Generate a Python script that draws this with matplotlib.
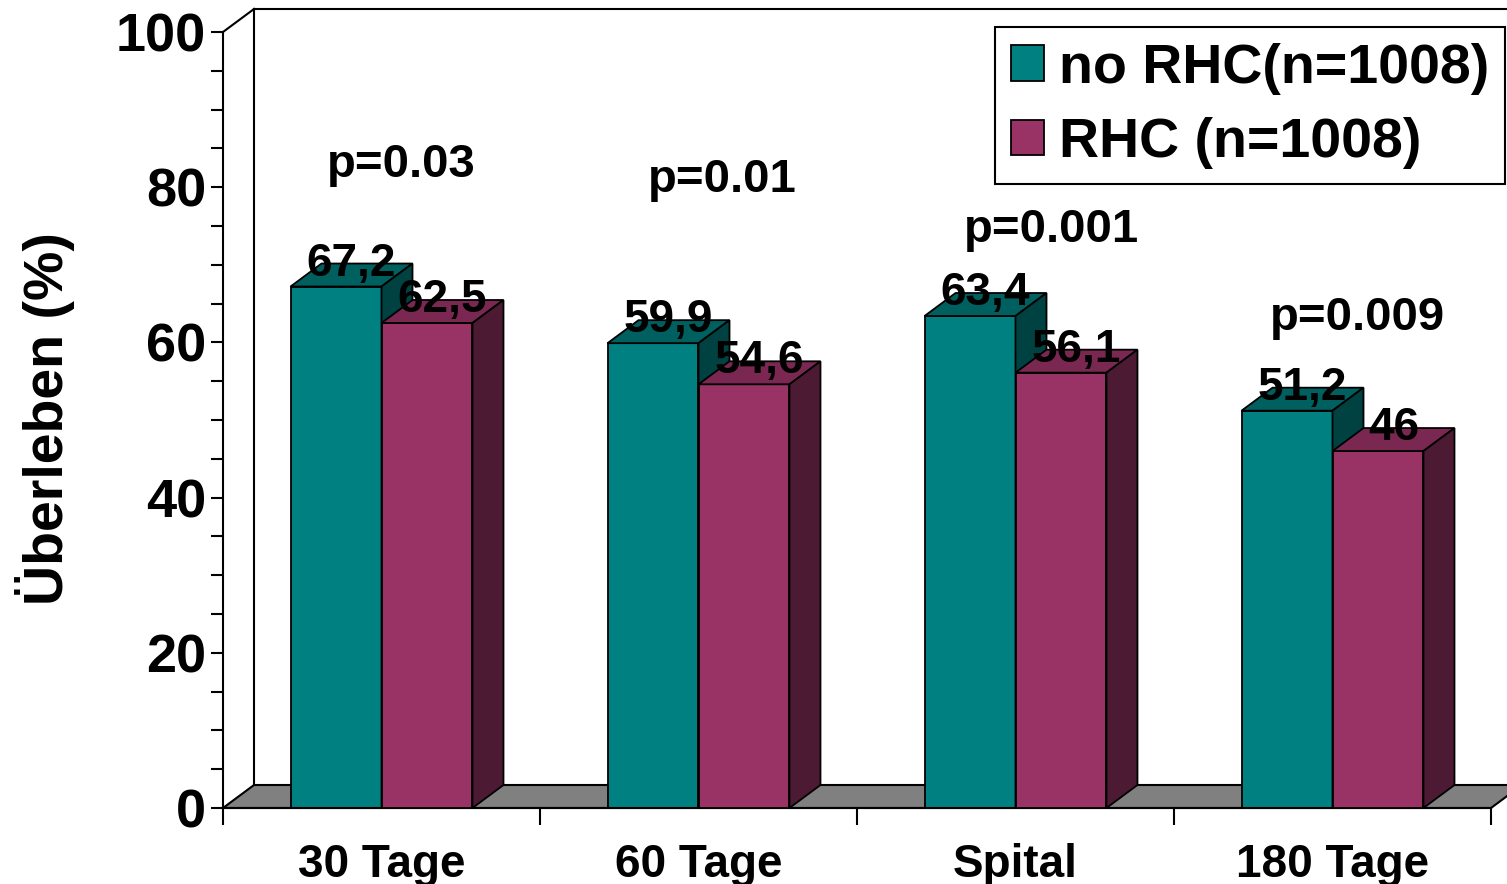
import matplotlib.pyplot as plt
from matplotlib.patches import Polygon, Patch
from matplotlib.ticker import MultipleLocator, FixedLocator

plt.rcParams['font.family'] = ['Liberation Sans', 'DejaVu Sans']
plt.rcParams['font.weight'] = 'bold'

categories = ['30 Tage', '60 Tage', 'Spital', '180 Tage']
no_rhc = [67.2, 59.9, 63.4, 51.2]
rhc = [62.5, 54.6, 56.1, 46.0]
no_rhc_labels = ['67,2', '59,9', '63,4', '51,2']
rhc_labels = ['62,5', '54,6', '56,1', '46']
p_values = ['p=0.03', 'p=0.01', 'p=0.001', 'p=0.009']
series_names = ['no RHC(n=1008)', 'RHC (n=1008)']

# where each p-value sits (x shift from the group centre, height in %)
p_shift = [0.062, 0.074, 0.115, 0.080]
p_heights = [82.9, 80.9, 74.5, 63.1]

teal = '#008080'
teal_top = '#005f5f'
teal_side = '#004242'
plum = '#993366'
plum_top = '#7a2851'
plum_side = '#4d1a33'

fig = plt.figure(figsize=(15.07, 8.84), dpi=100)
ax = fig.add_axes([223 / 1507, 1 - 808 / 884, (1491 - 223) / 1507, (808 - 32) / 884])
ax.set_xlim(-0.5, 3.5)
ax.set_ylim(0, 100)

# depth of the pseudo-3d effect in data units
dx = 31 / 317
dy = 23 / 7.76
w = 0.287

# floor and back wall
floor = Polygon([(-0.5, 0), (3.5, 0), (3.5 + dx, dy), (-0.5 + dx, dy)], closed=True,
                facecolor='#808080', edgecolor='black', lw=1.5, clip_on=False, zorder=1)
ax.add_patch(floor)
ax.plot([-0.5 + dx, -0.5 + dx], [dy, 100 + dy], color='black', lw=1.5, clip_on=False, zorder=1)
ax.plot([-0.5, -0.5 + dx], [100, 100 + dy], color='black', lw=1.5, clip_on=False, zorder=1)
ax.plot([-0.5 + dx, 3.6 + dx], [100 + dy, 100 + dy], color='black', lw=1.5, clip_on=False, zorder=1)


def box(x, h, front, top, side, z):
    left = x - w / 2
    right = x + w / 2
    ax.bar(x, h, width=w, color=front, edgecolor='black', lw=1.3, zorder=z)
    ax.add_patch(Polygon([(left, h), (right, h), (right + dx, h + dy), (left + dx, h + dy)],
                         closed=True, facecolor=top, edgecolor='black', lw=1.3, zorder=z, clip_on=False))
    ax.add_patch(Polygon([(right, 0), (right, h), (right + dx, h + dy), (right + dx, dy)],
                         closed=True, facecolor=side, edgecolor='black', lw=1.3, zorder=z, clip_on=False))


for i in range(len(categories)):
    box(i - w / 2, no_rhc[i], teal, teal_top, teal_side, 2)
    box(i + w / 2, rhc[i], plum, plum_top, plum_side, 3)
    ax.text(i - w / 2 + dx / 2, no_rhc[i] + dy, no_rhc_labels[i], ha='center', va='center',
            fontsize=33, fontweight='bold', zorder=5)
    ax.text(i + w / 2 + dx / 2, rhc[i] + dy, rhc_labels[i], ha='center', va='center',
            fontsize=33, fontweight='bold', zorder=5)
    ax.text(i + p_shift[i], p_heights[i], p_values[i], ha='center', va='center',
            fontsize=34, fontweight='bold', zorder=5)

for s in ['top', 'right']:
    ax.spines[s].set_visible(False)
ax.spines['left'].set_linewidth(1.5)
ax.spines['bottom'].set_linewidth(1.5)
ax.spines['left'].set_zorder(4)

ax.yaxis.set_major_locator(MultipleLocator(20))
ax.yaxis.set_minor_locator(MultipleLocator(5))
ax.tick_params(axis='y', which='both', direction='out', length=9, width=1.5, pad=3, labelsize=39)
ax.set_xticks(range(len(categories)))
ax.set_xticklabels(categories)
ax.xaxis.set_minor_locator(FixedLocator([-0.5, 0.5, 1.5, 2.5, 3.5]))
ax.tick_params(axis='x', which='major', length=0, pad=25, labelsize=33)
ax.tick_params(axis='x', which='minor', length=12, width=1.5)
for lbl in ax.get_xticklabels() + ax.get_yticklabels():
    lbl.set_fontweight('bold')

fig.text(45 / 1507, 1 - 419 / 884, 'Überleben (%)', rotation=90, ha='center', va='center',
         fontsize=40, fontweight='bold')

handles = [Patch(facecolor=teal, edgecolor='black', lw=1.3),
           Patch(facecolor=plum, edgecolor='black', lw=1.3)]
leg = fig.legend(handles, series_names, loc='upper right',
                 bbox_to_anchor=(1505 / 1507, 1 - 27 / 884), bbox_transform=fig.transFigure,
                 borderaxespad=0, fancybox=False, framealpha=1, edgecolor='black',
                 prop={'size': 40, 'weight': 'bold'}, handlelength=0.6, handleheight=0.6,
                 handletextpad=0.27, labelspacing=0.4, borderpad=0.28)
leg.get_frame().set_linewidth(1.5)

fig.savefig('out.png', dpi=100)
